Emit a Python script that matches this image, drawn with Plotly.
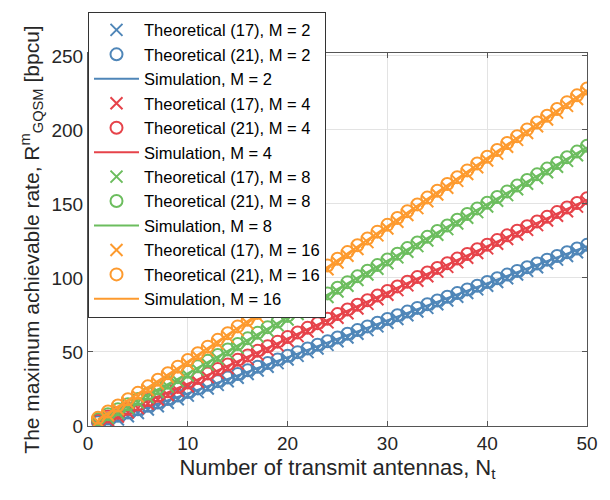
import plotly.graph_objects as go

nt = list(range(1, 51))

# M = 2
theo17_M2 = [0.0,2.5,4.4,6.6,8.8,11.1,13.4,15.7,18.1,20.5,22.9,25.3,27.8,30.2,32.6,35.1,37.5,40.0,42.5,44.9,47.4,49.9,52.4,54.8,57.3,59.8,62.3,64.8,67.3,69.8,72.3,74.8,77.3,79.8,82.3,84.8,87.3,89.8,92.3,94.8,97.3,99.8,102.3,104.8,107.3,109.9,112.4,114.9,117.4,119.9]
theo21_M2 = [2.5,5.0,6.9,9.1,11.3,13.6,15.9,18.2,20.6,23.0,25.4,27.8,30.3,32.7,35.1,37.6,40.0,42.5,45.0,47.4,49.9,52.4,54.9,57.3,59.8,62.3,64.8,67.3,69.8,72.3,74.8,77.3,79.8,82.3,84.8,87.3,89.8,92.3,94.8,97.3,99.8,102.3,104.8,107.3,109.8,112.4,114.9,117.4,119.9,122.4]
sim_M2 = [1.5,4.0,5.9,8.1,10.3,12.6,14.9,17.2,19.6,22.0,24.4,26.8,29.3,31.7,34.1,36.6,39.0,41.5,44.0,46.4,48.9,51.4,53.9,56.3,58.8,61.3,63.8,66.3,68.8,71.3,73.8,76.3,78.8,81.3,83.8,86.3,88.8,91.3,93.8,96.3,98.8,101.3,103.8,106.3,108.8,111.4,113.9,116.4,118.9,121.4]

# M = 4
theo17_M4 = [1.0,3.9,6.4,9.2,12.1,15.0,17.9,20.9,23.9,26.9,29.9,33.0,36.0,39.1,42.2,45.2,48.3,51.4,54.5,57.6,60.7,63.8,66.9,70.0,73.1,76.2,79.4,82.5,85.6,88.7,91.8,95.0,98.1,101.2,104.3,107.5,110.6,113.7,116.9,120.0,123.1,126.3,129.4,132.5,135.7,138.8,142.0,145.1,148.2,151.4]
theo21_M4 = [3.5,6.4,8.9,11.7,14.6,17.5,20.4,23.4,26.4,29.4,32.4,35.5,38.5,41.6,44.7,47.7,50.8,53.9,57.0,60.1,63.2,66.3,69.4,72.5,75.6,78.7,81.9,85.0,88.1,91.2,94.3,97.5,100.6,103.7,106.8,110.0,113.1,116.2,119.4,122.5,125.6,128.8,131.9,135.0,138.2,141.3,144.5,147.6,150.7,153.9]
sim_M4 = [2.5,5.4,7.9,10.7,13.6,16.5,19.4,22.4,25.4,28.4,31.4,34.5,37.5,40.6,43.7,46.7,49.8,52.9,56.0,59.1,62.2,65.3,68.4,71.5,74.6,77.7,80.9,84.0,87.1,90.2,93.3,96.5,99.6,102.7,105.8,109.0,112.1,115.2,118.4,121.5,124.6,127.8,130.9,134.0,137.2,140.3,143.5,146.6,149.7,152.9]

# M = 8
theo17_M8 = [2.0,5.5,8.8,12.2,15.8,19.4,23.0,26.7,30.4,34.1,37.9,41.6,45.4,49.2,52.9,56.7,60.5,64.3,68.1,71.9,75.7,79.5,83.3,87.1,90.9,94.7,98.6,102.4,106.2,110.0,113.9,117.7,121.5,125.3,129.2,133.0,136.8,140.7,144.5,148.3,152.2,156.0,159.9,163.7,167.5,171.4,175.2,179.1,182.9,186.8]
theo21_M8 = [4.5,8.0,11.3,14.7,18.3,21.9,25.5,29.2,32.9,36.6,40.4,44.1,47.9,51.7,55.4,59.2,63.0,66.8,70.6,74.4,78.2,82.0,85.8,89.6,93.4,97.2,101.1,104.9,108.7,112.5,116.4,120.2,124.0,127.8,131.7,135.5,139.3,143.2,147.0,150.8,154.7,158.5,162.4,166.2,170.0,173.9,177.7,181.6,185.4,189.3]
sim_M8 = [3.5,7.0,10.3,13.7,17.3,20.9,24.5,28.2,31.9,35.6,39.4,43.1,46.9,50.7,54.4,58.2,62.0,65.8,69.6,73.4,77.2,81.0,84.8,88.6,92.4,96.2,100.1,103.9,107.7,111.5,115.4,119.2,123.0,126.8,130.7,134.5,138.3,142.2,146.0,149.8,153.7,157.5,161.4,165.2,169.0,172.9,176.7,180.6,184.4,188.3]

# M = 16
theo17_M16 = [3.0,7.3,11.3,15.6,19.9,24.3,28.7,33.1,37.6,42.1,46.6,51.1,55.7,60.2,64.8,69.3,73.9,78.4,83.0,87.6,92.1,96.7,101.3,105.9,110.5,115.0,119.6,124.2,128.8,133.4,138.0,142.6,147.2,151.8,156.4,161.0,165.6,170.2,174.8,179.4,184.0,188.7,193.3,197.9,202.5,207.1,211.7,216.3,220.9,225.5]
theo21_M16 = [5.5,9.8,13.8,18.1,22.4,26.8,31.2,35.6,40.1,44.6,49.1,53.6,58.2,62.7,67.3,71.8,76.4,80.9,85.5,90.1,94.6,99.2,103.8,108.4,113.0,117.5,122.1,126.7,131.3,135.9,140.5,145.1,149.7,154.3,158.9,163.5,168.1,172.7,177.3,181.9,186.5,191.2,195.8,200.4,205.0,209.6,214.2,218.8,223.4,228.0]
sim_M16 = [4.5,8.8,12.8,17.1,21.4,25.8,30.2,34.6,39.1,43.6,48.1,52.6,57.2,61.7,66.3,70.8,75.4,79.9,84.5,89.1,93.6,98.2,102.8,107.4,112.0,116.5,121.1,125.7,130.3,134.9,139.5,144.1,148.7,153.3,157.9,162.5,167.1,171.7,176.3,180.9,185.5,190.2,194.8,199.4,204.0,208.6,213.2,217.8,222.4,227.0]

M_values = ["2", "4", "8", "16"]
colors = ["#4f86b8", "#e6434a", "#6cbd5e", "#fd9a2e"]
series = [
    (theo17_M2, theo21_M2, sim_M2),
    (theo17_M4, theo21_M4, sim_M4),
    (theo17_M8, theo21_M8, sim_M8),
    (theo17_M16, theo21_M16, sim_M16),
]

FONT = "Liberation Sans, Arial, sans-serif"
fig = go.Figure()
for m, col, (t17, t21, sim) in zip(M_values, colors, series):
    fig.add_trace(go.Scatter(
        x=nt, y=t17, mode="markers", name=f"Theoretical (17), M = {m}",
        marker=dict(symbol="x-thin-open", size=12, color=col,
                    line=dict(color=col, width=2)),
    ))
    fig.add_trace(go.Scatter(
        x=nt, y=t21, mode="markers", name=f"Theoretical (21), M = {m}",
        marker=dict(symbol="circle-open", size=12, color=col,
                    line=dict(color=col, width=2)),
    ))
    fig.add_trace(go.Scatter(
        x=nt, y=sim, mode="lines", name=f"Simulation, M = {m}",
        line=dict(color=col, width=2),
    ))

axis_common = dict(
    showline=True, linecolor="#555555", linewidth=1, mirror="ticks",
    ticks="inside", ticklen=5, tickcolor="#555555",
    showgrid=True, gridcolor="#e3e3e3", gridwidth=1, zeroline=False,
    tickfont=dict(family=FONT, size=19, color="#262626"),
)

fig.update_layout(
    width=610, height=500,
    margin=dict(l=88, r=13, t=38, b=74),
    paper_bgcolor="white", plot_bgcolor="white",
    font=dict(family=FONT, color="#262626"),
    showlegend=True,
    legend=dict(
        x=0, y=1 + 43 / 388, xanchor="left", yanchor="top",
        bgcolor="white", bordercolor="#333333", borderwidth=1,
        font=dict(family=FONT, size=16.5, color="#000000"),
        itemwidth=45, maxheight=450,
    ),
    xaxis=dict(range=[0, 50], tickvals=[0, 10, 20, 30, 40, 50],
               title=dict(text="Number of transmit antennas, N<sub>t</sub>",
                          font=dict(family=FONT, size=22, color="#262626"),
                          standoff=6),
               **axis_common),
    yaxis=dict(range=[0, 252], tickvals=[0, 50, 100, 150, 200, 250],
               title=dict(text="The maximum achievable rate, R<sup>m</sup><sub>GQSM</sub> [bpcu]",
                          font=dict(family=FONT, size=21, color="#262626"),
                          standoff=6),
               **axis_common),
)

fig.write_html("out.html")
